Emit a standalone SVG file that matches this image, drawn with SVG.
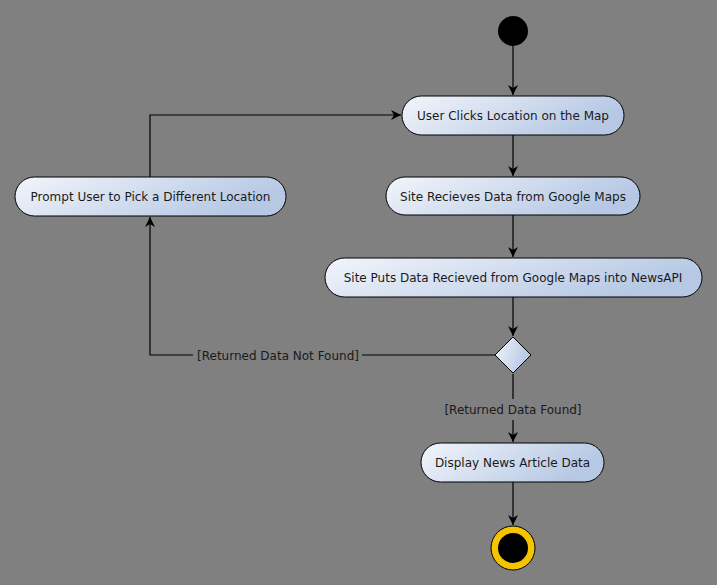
<svg xmlns="http://www.w3.org/2000/svg" width="717" height="585" viewBox="0 0 717 585">
<style>
.node rect, .node polygon { fill: url(#g); stroke: #000; stroke-width: 1; }
text { font-family: "DejaVu Sans", Verdana, sans-serif; font-size: 12px; fill: #1a1a1a; text-anchor: middle; }
.edge { fill: none; stroke: #000; stroke-width: 1.2; }
</style>
<defs>
<linearGradient id="g" x1="0" y1="0" x2="1" y2="0.3">
<stop offset="0" stop-color="#f2f5fb"/>
<stop offset="1" stop-color="#b6c8e4"/>
</linearGradient>
<marker id="a" viewBox="0 0 10 10" refX="10" refY="5" markerWidth="10" markerHeight="10" markerUnits="userSpaceOnUse" orient="auto">
<path d="M0,0 L10,5 L0,10 L3,5 Z" fill="#000"/>
</marker>
</defs>
<rect width="717" height="585" fill="#808080"/>
<g id="connectors">
<path class="edge" d="M513,46 V95" marker-end="url(#a)"/>
<path class="edge" d="M513,135 V176" marker-end="url(#a)"/>
<path class="edge" d="M513,215 V257" marker-end="url(#a)"/>
<path class="edge" d="M513,297 V336" marker-end="url(#a)"/>
<path class="edge" d="M513,374 V399 M513,420 V442" marker-end="url(#a)"/>
<path class="edge" d="M513,482 V525" marker-end="url(#a)"/>
<path class="edge" d="M495,355 H362 M193,355 H150 V217" marker-end="url(#a)"/>
<path class="edge" d="M150,177 V115 H401" marker-end="url(#a)"/>
<text x="278" y="359.5">[Returned Data Not Found]</text>
<text x="513" y="413.5">[Returned Data Found]</text>
</g>
<g id="start"><circle cx="513" cy="31" r="15" fill="#000"/></g>
<g id="n1" class="node"><rect x="402" y="96" width="222" height="39" rx="19.5"/><text x="513" y="119.5">User Clicks Location on the Map</text></g>
<g id="n2" class="node"><rect x="386" y="177" width="254" height="38" rx="19"/><text x="513" y="200.5">Site Recieves Data from Google Maps</text></g>
<g id="n3" class="node"><rect x="325" y="258" width="377" height="39" rx="19.5"/><text x="513" y="281.5">Site Puts Data Recieved from Google Maps into NewsAPI</text></g>
<g id="d" class="node"><polygon points="513,337 531,355 513,373 495,355"/></g>
<g id="n4" class="node"><rect x="421" y="443" width="183" height="39" rx="19.5"/><text x="512.5" y="466.5">Display News Article Data</text></g>
<g id="p" class="node"><rect x="15" y="177" width="271" height="39" rx="19.5"/><text x="150.5" y="200.5">Prompt User to Pick a Different Location</text></g>
<g id="end"><circle cx="513" cy="548" r="22" fill="#f5c400" stroke="#000" stroke-width="1"/><circle cx="513" cy="548" r="15" fill="#000"/></g>
</svg>
